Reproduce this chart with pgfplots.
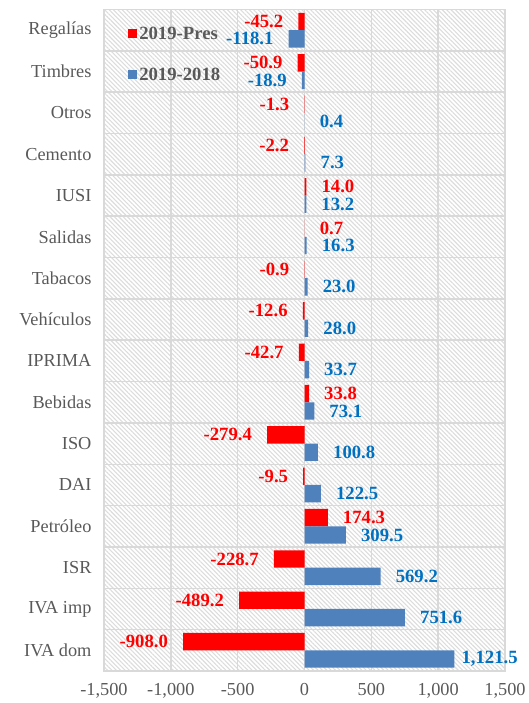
\documentclass[border=0pt]{standalone}
\usepackage{pgfplots}
\pgfplotsset{compat=1.18}
\usepackage{pgfplotstable}
\usepackage{fontspec}
\setmainfont{Liberation Serif}
\usetikzlibrary{patterns.meta}
\definecolor{redbar}{HTML}{FF0000}
\definecolor{bluebar}{HTML}{4F81BD}
\definecolor{bluelab}{HTML}{0070C0}
\definecolor{txtgray}{HTML}{595959}
\definecolor{gridgray}{HTML}{D9D9D9}
\definecolor{patgray}{HTML}{DCDCDC}

\pgfplotstableread{
y pres yoy
0 -908.0 1121.5
1 -489.2 751.6
2 -228.7 569.2
3 174.3 309.5
4 -9.5 122.5
5 -279.4 100.8
6 33.8 73.1
7 -42.7 33.7
8 -12.6 28.0
9 -0.9 23.0
10 0.7 16.3
11 14.0 13.2
12 -2.2 7.3
13 -1.3 0.4
14 -50.9 -18.9
15 -45.2 -118.1
}\data

\begin{document}
\begin{tikzpicture}
\begin{axis}[
  name=ax,
  scale only axis,
  width=401pt, height=661.5pt,
  xbar,
  clip=false,
  xmin=-1500, xmax=1500,
  ymin=-0.5, ymax=15.5,
  xtick={-1500,-1000,...,1500},
  ytick={0,...,15},
  yticklabels={IVA dom, IVA imp, ISR, Petróleo, DAI, ISO, Bebidas, IPRIMA, Vehículos, Tabacos, Salidas, IUSI, Cemento, Otros, Timbres, Regalías},
  minor ytick={-0.5,0.5,...,15.5},
  xmajorgrids, yminorgrids,
  ymajorgrids=false,
  major tick length=0pt, minor tick length=0pt,
  grid style={draw=gridgray, line width=1.5pt},
  minor grid style={draw=gridgray, line width=1.5pt},
  axis line style={draw=gridgray, line width=1.5pt},
  axis background/.style={pattern={Lines[angle=-45,distance=3.1pt,line width=1.1pt]}, pattern color=patgray},
  tick label style={font=\fontsize{18.3}{20}\selectfont, text=txtgray},
  xticklabel style={yshift=-9pt, /pgf/number format/1000 sep={,}, /pgf/number format/assume math mode=true},
  yticklabel style={xshift=-9pt},
  bar width=0.42,
  nodes near coords,
  point meta=x,
  nodes near coords style={font=\fontsize{18.7}{20}\selectfont\bfseries, inner xsep=15pt, inner ysep=0pt,
     /pgf/number format/fixed, /pgf/number format/fixed zerofill, /pgf/number format/precision=1,
     /pgf/number format/1000 sep={,}, /pgf/number format/assume math mode=true},
  legend style={at={(rel axis cs:0.06,0.977)}, anchor=north west, draw=none, fill=none,
     font=\fontsize{18.7}{20}\selectfont\bfseries, text=txtgray, row sep=23pt, inner sep=0pt},
  legend cell align=left,
  legend image code/.code={\fill[#1, draw=none] (0pt,-4.5pt) rectangle (9pt,4.5pt);},
]
\addplot[fill=redbar, draw=none, bar shift=0.21, every node near coord/.append style={text=redbar}] table[x=pres,y=y] {\data};
\addlegendentry{2019-Pres}
\addplot[fill=bluebar, draw=none, bar shift=-0.21,
  visualization depends on={rawx \as \rawx},
  every node near coord/.append style={text=bluelab, xshift={(\rawx>1000)*(-8)}}] table[x=yoy,y=y] {\data};
\addlegendentry{2019-2018}
\end{axis}
\pgfresetboundingbox
\path[use as bounding box] ([shift={(-104pt,-32pt)}]ax.south west) rectangle ([shift={(24pt,9.5pt)}]ax.north east);
\end{tikzpicture}
\end{document}
